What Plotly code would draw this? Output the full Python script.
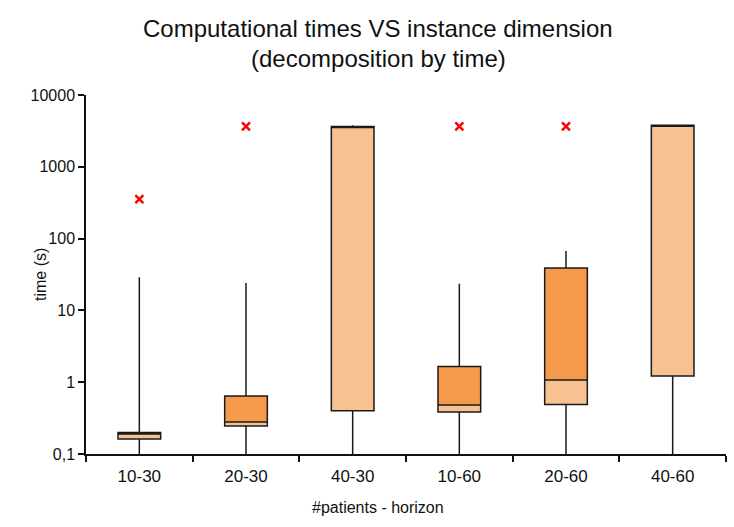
import plotly.graph_objects as go

categories = ["10-30", "20-30", "40-30", "10-60", "20-60", "40-60"]
lower_whisker = [0.1, 0.1, 0.1, 0.1, 0.1, 0.1]
q1 = [0.162, 0.245, 0.40, 0.385, 0.49, 1.22]
median = [0.19, 0.28, 3600, 0.48, 1.07, 3750]
q3 = [0.20, 0.64, 3650, 1.65, 39, 3800]
upper_whisker = [29, 24, 3800, 23.5, 67, 3800]
outlier_x = ["10-30", "20-30", "10-60", "20-60"]
outlier_y = [355, 3650, 3650, 3650]

tick_vals = [0.1, 1, 10, 100, 1000, 10000]
tick_text = ["0,1", "1", "10", "100", "1000", "10000"]

light = "#F8C191"
dark = "#F5994A"
font = "Liberation Sans, Arial, sans-serif"

W, H = 734, 527
L, R, T, B = 86, 8, 95, 73
plot_w = W - L - R
plot_h = H - T - B


def px(x):
    return (x - L) / plot_w


def py(y):
    return (H - B - y) / plot_h


fig = go.Figure()
fig.add_trace(go.Bar(x=categories, base=q1,
                     y=[m - a for m, a in zip(median, q1)],
                     width=0.4, marker=dict(color=light, line=dict(width=0)),
                     showlegend=False, hoverinfo="skip"))
fig.add_trace(go.Bar(x=categories, base=median,
                     y=[b - m for b, m in zip(q3, median)],
                     width=0.4, marker=dict(color=dark, line=dict(width=0)),
                     showlegend=False, hoverinfo="skip"))
fig.add_trace(go.Box(x=categories, q1=q1, median=median, q3=q3,
                     lowerfence=lower_whisker, upperfence=upper_whisker,
                     width=0.4, whiskerwidth=0, fillcolor="rgba(0,0,0,0)",
                     line=dict(color="#1a1a1a", width=1.5),
                     boxpoints=False, showlegend=False))
fig.add_trace(go.Scatter(x=outlier_x, y=outlier_y, mode="markers",
                         marker=dict(symbol="x-thin", size=8, color="red",
                                     line=dict(color="red", width=2.5)),
                         showlegend=False))

common = dict(xref="paper", yref="paper", showarrow=False,
              xanchor="center", yanchor="middle")

fig.update_layout(
    width=W, height=H,
    margin=dict(l=L, r=R, t=T, b=B),
    paper_bgcolor="white", plot_bgcolor="white",
    barmode="overlay",
    font=dict(family=font, size=16, color="#111"),
    xaxis=dict(type="category", categoryorder="array", categoryarray=categories,
               range=[-0.5, 5.5], showline=True, linecolor="#111", linewidth=1.5,
               ticks="outside", tickson="boundaries", ticklen=6, tickwidth=1.5,
               tickcolor="#111", showgrid=False, zeroline=False,
               tickfont=dict(size=17), ticklabelstandoff=6),
    yaxis=dict(type="log", range=[-1, 4], tickvals=tick_vals, ticktext=tick_text,
               showline=True, linecolor="#111", linewidth=1.5,
               ticks="outside", ticklen=6, tickwidth=1.5, tickcolor="#111",
               showgrid=False, zeroline=False, tickfont=dict(size=16)),
    annotations=[
        dict(text="Computational times VS instance dimension",
             x=px(378), y=py(29), font=dict(size=24), **common),
        dict(text="(decomposition by time)",
             x=px(378), y=py(59), font=dict(size=24), **common),
        dict(text="#patients - horizon", x=px(378), y=py(507),
             font=dict(size=16), **common),
        dict(text="time (s)", x=px(40), y=py(275), textangle=-90,
             font=dict(size=16), **common),
    ],
)

fig.write_html("out.html")
